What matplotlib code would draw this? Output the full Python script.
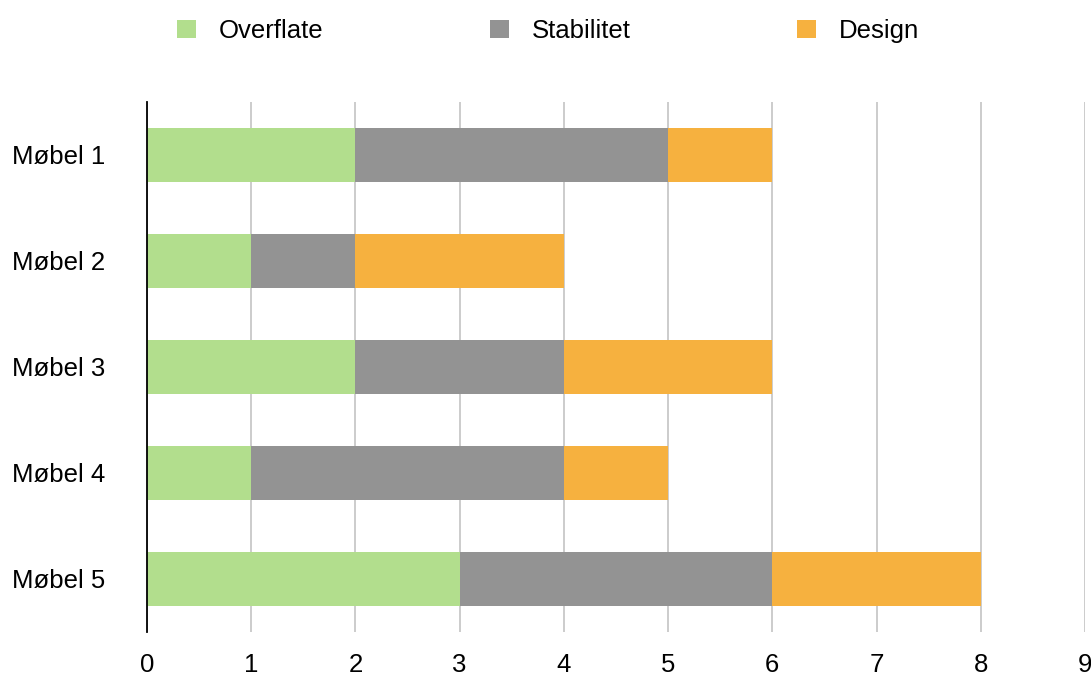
import matplotlib
matplotlib.use("Agg")
import matplotlib.pyplot as plt
import numpy as np

categories = ["Møbel 1", "Møbel 2", "Møbel 3", "Møbel 4", "Møbel 5"]
series_names = ["Overflate", "Stabilitet", "Design"]
overflate = [2, 1, 2, 1, 3]
stabilitet = [3, 1, 2, 3, 3]
design = [1, 2, 2, 1, 2]
colors = ["#b2de8d", "#939393", "#f6b13f"]
xticks = [0, 1, 2, 3, 4, 5, 6, 7, 8, 9]

plt.rcParams['font.family'] = ['Liberation Sans', 'DejaVu Sans']
FS = 18.5

fig = plt.figure(figsize=(10.91, 6.77), dpi=100)
ax = fig.add_axes([147/1091, 1 - 632/677, (1085 - 147)/1091, (632 - 102)/677])

y = np.arange(len(categories))
left = np.zeros(len(categories))
for name, vals, c in zip(series_names, [overflate, stabilitet, design], colors):
    ax.barh(y, vals, left=left, height=0.51, color=c, label=name, zorder=2)
    left += np.array(vals)

ax.set_ylim(len(categories) - 0.5, -0.5)
ax.set_xlim(0, 9)
ax.set_yticks(y)
ax.set_yticklabels(categories, fontsize=FS)
ax.set_xticks(xticks)
ax.set_xticklabels([str(t) for t in xticks], fontsize=FS)
ax.tick_params(axis='both', length=0)
ax.tick_params(axis='x', pad=15)
ax.tick_params(axis='y', pad=30)
ax.grid(axis='x', color='#c4c4c4', linewidth=1.2, zorder=0)
ax.set_axisbelow(True)
for s in ['top', 'right', 'bottom']:
    ax.spines[s].set_visible(False)
ax.spines['left'].set_color('black')
ax.spines['left'].set_linewidth(1.3)
ax.spines['left'].set_zorder(3)

fig.legend(loc='center left', bbox_to_anchor=(177/1091, 1 - 31/677), ncol=3,
           frameon=False, fontsize=FS, handlelength=0.74, handleheight=0.74,
           handletextpad=0.87, columnspacing=6.5, borderpad=0, borderaxespad=0)

fig.savefig("out.png", dpi=100)
